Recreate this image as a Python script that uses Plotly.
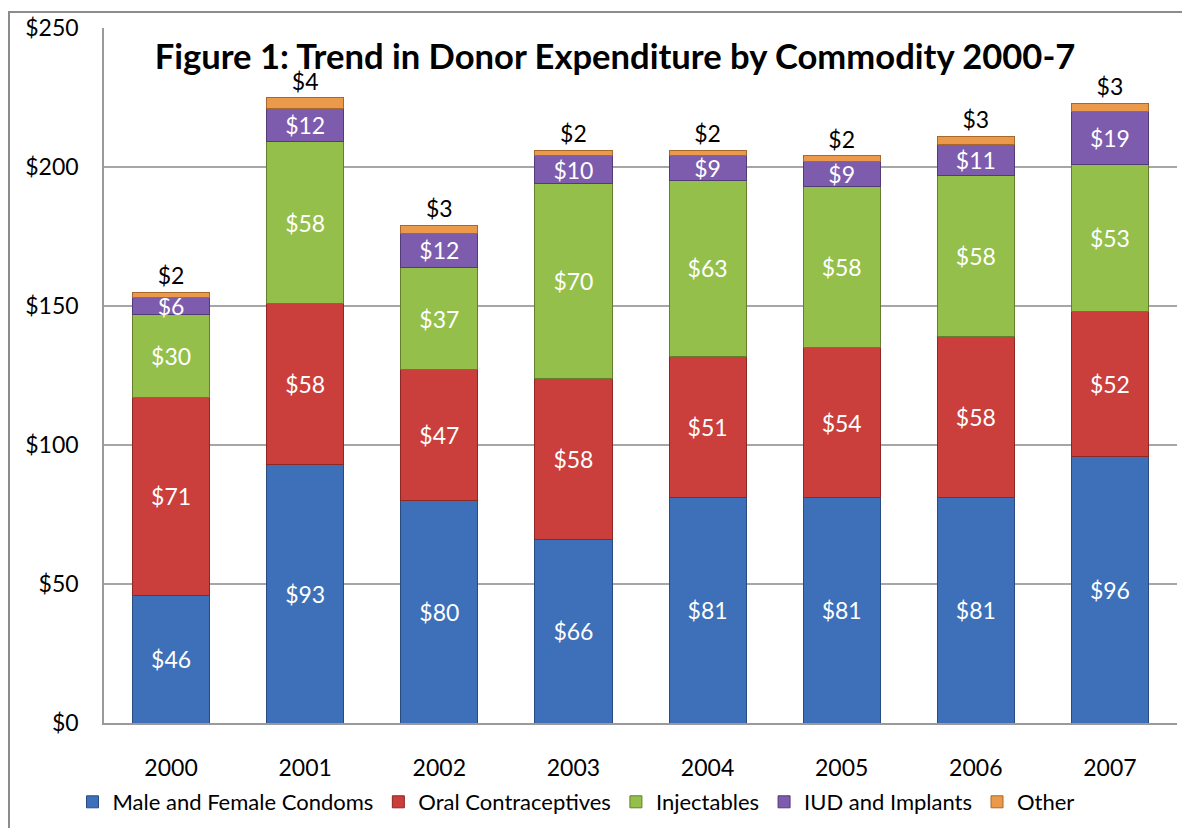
import plotly.graph_objects as go

years = ["2000", "2001", "2002", "2003", "2004", "2005", "2006", "2007"]
condoms = [46, 93, 80, 66, 81, 81, 81, 96]
oral = [71, 58, 47, 58, 51, 54, 58, 52]
inject = [30, 58, 37, 70, 63, 58, 58, 53]
iud = [6, 12, 12, 10, 9, 9, 11, 19]
other = [2, 4, 3, 2, 2, 2, 3, 3]

series = [
    ("Male and Female Condoms", condoms, "#3D70B9", "#284C82"),
    ("Oral Contraceptives", oral, "#CA3E3C", "#8E2624"),
    ("Injectables", inject, "#94BF4A", "#637F2E"),
    ("IUD and Implants", iud, "#7D5BAD", "#533A78"),
    ("Other", other, "#EB9A4C", "#A8672B"),
]

FONT = "Lato"
fig = go.Figure()
for name, vals, col, edge in series:
    is_top = name == "Other"
    fig.add_trace(go.Bar(
        x=years, y=vals, name=name,
        marker=dict(color=col, line=dict(color=edge, width=1)),
        text=[f"${v}" for v in vals],
        textposition="outside" if is_top else "inside",
        insidetextanchor="middle",
        constraintext="none",
        textangle=0,
        textfont=dict(family=FONT, size=23, color="black" if is_top else "white"),
        cliponaxis=False,
        hoverinfo="skip",
    ))

# page body has an 8px margin, so figure coords = screen coords - 8
W = 1182; H = 820
x0 = 96; x1 = 1169; y0 = 20; y1 = 715
pw = x1 - x0; ph = y1 - y0

fig.update_layout(
    width=W, height=H,
    barmode="stack", bargap=0.425,
    paper_bgcolor="white", plot_bgcolor="white",
    margin=dict(l=x0, r=W - x1, t=y0, b=H - y1, pad=0, autoexpand=False),
    font=dict(family=FONT, size=23, color="black"),
    title=dict(text="<b>Figure 1: Trend in Donor Expenditure by Commodity 2000-7</b>",
               font=dict(family=FONT, size=34.6, color="black"),
               x=607 / W, xanchor="center", y=1 - 49 / H, yanchor="middle"),
    showlegend=True,
    legend=dict(orientation="h", x=(568 - x0) / pw, xanchor="center",
                y=(y1 - 794) / ph, yanchor="middle",
                font=dict(family=FONT, size=22), traceorder="normal",
                itemwidth=30, tracegroupgap=0),
    xaxis=dict(showgrid=False, showline=True, linecolor="#9a9a9a", linewidth=1.5,
               ticks="", ticklabelstandoff=24, tickfont=dict(size=23), automargin=False),
    yaxis=dict(range=[0, 250], dtick=50, tickprefix="$", showgrid=True,
               gridcolor="#a6a6a6", gridwidth=1.5, showline=True,
               linecolor="#9a9a9a", linewidth=1.5, ticks="",
               ticklabelstandoff=19, tickfont=dict(size=23), zeroline=False,
               automargin=False),
    shapes=[
        dict(type="rect", xref="paper", yref="paper",
             x0=(1 - x0) / pw, x1=(1195 - x0) / pw,
             y0=(y1 - 840) / ph, y1=(y1 - 4) / ph,
             line=dict(color="#8c8c8c", width=2), fillcolor="rgba(0,0,0,0)", layer="below"),
    ],
)

fig.write_html("out.html")
